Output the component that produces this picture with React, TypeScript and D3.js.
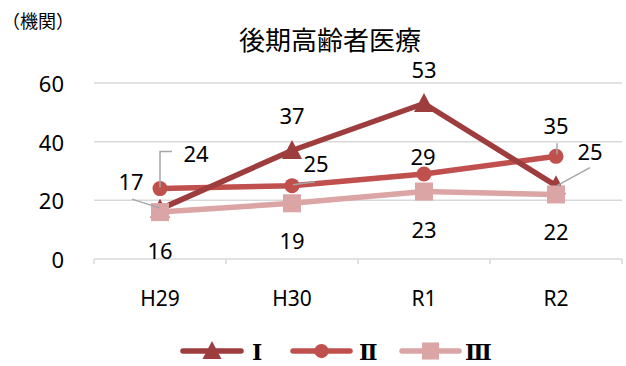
import React from "react";
import * as d3 from "d3";

const categories = ["H29", "H30", "R1", "R2"];
const seriesNames = ["Ⅰ", "Ⅱ", "Ⅲ"];
const valuesI = [17, 37, 53, 25];
const valuesII = [24, 25, 29, 35];
const valuesIII = [16, 19, 23, 22];
const yTicks = [0, 20, 40, 60];
const title = "後期高齢者医療";
const unitLabel = "（機関）";

const W = 626;
const H = 366;
const plot = { left: 94, right: 622, top: 83, bottom: 259 };

const colors = ["#9E3D3D", "#C0504D", "#DCA5A5"];
const markers = ["triangle", "circle", "square"];

// label offsets (dx, dy) from point, and optional leader polylines (relative to point)
const labelOffsets: { dx: number; dy: number; leader?: [number, number][] }[][] = [
  [
    { dx: -29, dy: -28, leader: [[0, -1], [-28, -10]] },
    { dx: 0, dy: -35 },
    { dx: 0, dy: -35 },
    { dx: 34, dy: -35, leader: [[1, 0], [34, -18]] },
  ],
  [
    { dx: 36, dy: -36, leader: [[0, -1], [0, -37], [12, -37]] },
    { dx: 24, dy: -23, leader: [[1, -1], [23, -4]] },
    { dx: -1, dy: -18 },
    { dx: 0, dy: -31, leader: [[1, -2], [1, -13]] },
  ],
  [
    { dx: 0, dy: 38 },
    { dx: 0, dy: 37 },
    { dx: 0, dy: 37 },
    { dx: 0, dy: 37 },
  ],
];

const NUM_FONT = "'Noto Sans', 'Liberation Sans', sans-serif";
const CJK_FONT = "'Noto Sans CJK JP', 'Noto Sans', sans-serif";

function Marker({ type, x, y, color, size = 1 }: { type: string; x: number; y: number; color: string; size?: number }) {
  if (type === "triangle") {
    const s = 10 * size;
    const h = 19 * size;
    const pts = `${x},${y - h * 0.55} ${x + s},${y + h * 0.45} ${x - s},${y + h * 0.45}`;
    return <polygon points={pts} fill={color} />;
  }
  if (type === "circle") {
    return <circle cx={x} cy={y} r={7.5 * size} fill={color} />;
  }
  const s = 9 * size;
  return <rect x={x - s} y={y - s} width={2 * s} height={2 * s} fill={color} />;
}

export default function App() {
  const x = d3.scaleBand<string>().domain(categories).range([plot.left, plot.right]).padding(0);
  const y = d3.scaleLinear().domain([0, 60]).range([plot.bottom, plot.top]);
  const cx = (c: string) => (x(c) ?? 0) + x.bandwidth() / 2;

  const allSeries = [valuesI, valuesII, valuesIII];
  const drawOrder = [1, 0, 2];
  const line = d3
    .line<number>()
    .x((_, i) => cx(categories[i]))
    .y((d) => y(d));

  const boundaries = [...categories.map((c) => x(c) ?? 0), plot.right];

  const legendItems = [
    { x0: 183, x1: 241, tx: 252 },
    { x0: 293, x1: 350, tx: 359 },
    { x0: 402, x1: 459, tx: 465 },
  ];
  const legendY = 351;

  return (
    <svg width={W} height={H} style={{ position: "absolute", left: 0, top: 0, background: "#fff" }}>
      <rect x={0} y={0} width={W} height={H} fill="#fff" />
      {/* gridlines */}
      {yTicks.filter((t) => t !== 0).map((t) => (
        <line key={t} x1={plot.left} x2={plot.right} y1={y(t)} y2={y(t)} stroke="#D9D9D9" strokeWidth={1.5} />
      ))}
      {/* x axis */}
      <line x1={plot.left} x2={plot.right} y1={y(0)} y2={y(0)} stroke="#D9D9D9" strokeWidth={1.5} />
      {boundaries.map((b, i) => (
        <line key={i} x1={b} x2={b} y1={y(0)} y2={y(0) + 5} stroke="#D9D9D9" strokeWidth={1.5} />
      ))}
      {/* y tick labels */}
      {yTicks.map((t) => (
        <text key={t} x={64} y={y(t)} textAnchor="end" dominantBaseline="central" fontFamily={NUM_FONT} fontSize={22} fill="#000">
          {t}
        </text>
      ))}
      {/* x tick labels */}
      {categories.map((c) => (
        <text key={c} x={cx(c)} y={298} textAnchor="middle" dominantBaseline="central" fontFamily={NUM_FONT} fontSize={21} fill="#000">
          {c}
        </text>
      ))}
      {/* title */}
      <text x={330} y={38} textAnchor="middle" dominantBaseline="central" fontFamily={CJK_FONT} fontSize={26} fill="#000">
        {title}
      </text>
      <text x={2} y={20} dominantBaseline="central" fontFamily={CJK_FONT} fontSize={18} fill="#000">
        {unitLabel}
      </text>
      {/* series */}
      {drawOrder.map((si) => {
        const vals = allSeries[si];
        return (
          <g key={si}>
            <path d={line(vals) ?? ""} fill="none" stroke={colors[si]} strokeWidth={5.5} strokeLinejoin="round" strokeLinecap="round" />
            {vals.map((v, i) => (
              <Marker key={i} type={markers[si]} x={cx(categories[i])} y={y(v)} color={colors[si]} />
            ))}
          </g>
        );
      })}
      {/* leader lines and labels */}
      {allSeries.map((vals, si) =>
        vals.map((v, i) => {
          const px = cx(categories[i]);
          const py = y(v);
          const off = labelOffsets[si][i];
          return (
            <g key={`${si}-${i}`}>
              {off.leader && (
                <polyline
                  points={off.leader.map(([a, b]) => `${px + a},${py + b}`).join(" ")}
                  fill="none"
                  stroke="#A6A6A6"
                  strokeWidth={1.5}
                />
              )}
              <text x={px + off.dx} y={py + off.dy} textAnchor="middle" dominantBaseline="central" fontFamily={NUM_FONT} fontSize={22} fill="#000">
                {v}
              </text>
            </g>
          );
        })
      )}
      {/* legend */}
      {legendItems.map((it, si) => (
        <g key={si}>
          <line x1={it.x0} x2={it.x1} y1={legendY} y2={legendY} stroke={colors[si]} strokeWidth={5.5} strokeLinecap="round" />
          <Marker type={markers[si]} x={(it.x0 + it.x1) / 2} y={legendY} color={colors[si]} size={0.95} />
          <text x={it.tx} y={legendY + 1} dominantBaseline="central" fontFamily="'DejaVu Serif', 'Liberation Serif', serif" fontWeight="bold" fontSize={22} fill="#000">
            {seriesNames[si]}
          </text>
        </g>
      ))}
    </svg>
  );
}
